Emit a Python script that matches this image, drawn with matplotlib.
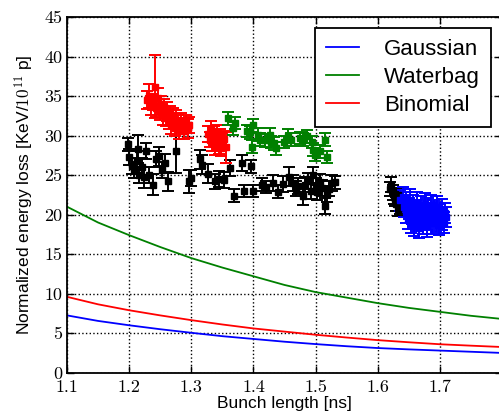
import numpy as np
import matplotlib
matplotlib.use('Agg')
import matplotlib.pyplot as plt
from matplotlib.ticker import FuncFormatter

plt.rcParams['font.family'] = ['Liberation Sans', 'DejaVu Sans']
plt.rcParams['mathtext.fontset'] = 'cm'

# theory curves
curve_x = [1.10, 1.15, 1.20, 1.25, 1.30, 1.35, 1.40, 1.45, 1.50, 1.55, 1.60, 1.65, 1.70, 1.75, 1.80]
gauss_y = [7.25, 6.55, 6.0, 5.5, 5.05, 4.62, 4.27, 3.92, 3.62, 3.35, 3.12, 2.95, 2.8, 2.65, 2.5]
water_y = [21.0, 19.0, 17.4, 15.9, 14.5, 13.3, 12.2, 11.1, 10.2, 9.5, 8.8, 8.2, 7.7, 7.2, 6.8]
binom_y = [9.6, 8.65, 7.9, 7.25, 6.65, 6.1, 5.6, 5.2, 4.8, 4.45, 4.12, 3.85, 3.6, 3.42, 3.25]

# measurements
black_x = [1.198, 1.200, 1.204, 1.208, 1.212, 1.215, 1.216, 1.220, 1.224, 1.227,
           1.232, 1.238, 1.243, 1.248, 1.253, 1.258, 1.263, 1.275, 1.296, 1.299,
           1.314, 1.317, 1.327, 1.338, 1.345, 1.352, 1.362, 1.368, 1.381, 1.385,
           1.396, 1.399, 1.413, 1.421, 1.431, 1.440, 1.447, 1.458, 1.464, 1.468,
           1.472, 1.479, 1.483, 1.488, 1.492, 1.496, 1.500, 1.503, 1.507, 1.510,
           1.515, 1.518, 1.522, 1.527, 1.532,
           1.620, 1.622, 1.625, 1.626, 1.628, 1.630, 1.632, 1.633, 1.636]
black_y = [28.9, 27.3, 26.2, 25.6, 26.8, 28.3, 25.0, 26.0, 24.7, 28.0,
           25.0, 23.8, 27.0, 27.4, 25.6, 26.5, 24.2, 28.1, 24.2, 24.6,
           27.0, 26.3, 25.2, 24.2, 24.5, 24.4, 25.9, 22.4, 26.5, 23.0,
           26.1, 23.0, 23.8, 23.5, 24.0, 22.9, 23.9, 24.8, 24.0, 23.3,
           23.6, 22.4, 23.8, 24.3, 23.0, 25.0, 23.6, 22.8, 24.1, 23.4,
           21.1, 22.6, 23.3, 24.0, 24.1,
           23.2, 23.8, 22.8, 22.2, 22.0, 21.3, 20.7, 22.5, 21.0]
black_err = [0.8, 1.0, 1.0, 1.0, 1.2, 1.8, 1.0, 1.2, 1.3, 1.0,
             1.0, 1.3, 1.0, 1.2, 1.0, 1.2, 1.2, 2.8, 1.5, 1.0,
             1.2, 1.2, 1.2, 1.0, 1.0, 1.0, 1.0, 0.8, 1.0, 0.8,
             0.8, 0.8, 0.8, 0.8, 1.0, 0.8, 1.0, 1.2, 1.0, 1.0,
             1.0, 1.2, 1.0, 1.0, 1.0, 1.0, 1.0, 1.0, 1.0, 1.0,
             1.0, 1.0, 1.0, 1.0, 0.8,
             0.9, 0.9, 0.9, 0.9, 0.9, 0.9, 0.9, 0.9, 0.9]

red_x = [1.228, 1.232, 1.235, 1.238, 1.241, 1.244, 1.246, 1.249, 1.251, 1.254,
         1.256, 1.259, 1.261, 1.264, 1.266, 1.268, 1.271, 1.273, 1.276, 1.278,
         1.281, 1.283, 1.286, 1.289, 1.291, 1.294, 1.297,
         1.327, 1.330, 1.332, 1.334, 1.336, 1.338, 1.340, 1.342, 1.344, 1.346,
         1.348, 1.350, 1.352, 1.356]
red_y = [34.5, 35.0, 33.8, 34.2, 36.2, 33.5, 34.8, 33.0, 34.0, 32.6,
         33.6, 32.2, 33.1, 31.8, 32.8, 31.4, 32.5, 31.0, 32.0, 31.6,
         30.8, 31.9, 31.2, 30.6, 31.6, 30.9, 31.3,
         30.2, 29.5, 30.8, 29.0, 30.0, 28.6, 29.6, 30.4, 28.9, 29.8,
         28.4, 29.3, 29.6, 28.5]
red_err = [1.2, 1.5, 1.2, 1.0, 4.0, 1.2, 1.2, 1.0, 1.0, 1.2,
           1.0, 1.0, 1.2, 1.0, 1.0, 1.2, 1.0, 1.0, 1.2, 1.0,
           1.2, 1.0, 1.0, 1.0, 1.0, 1.2, 1.0,
           1.0, 1.0, 1.0, 1.0, 1.2, 1.0, 1.0, 1.0, 1.2, 1.0,
           1.0, 1.0, 1.0, 2.0]

green_x = [1.359, 1.367, 1.370, 1.389, 1.394, 1.397, 1.400, 1.407, 1.410, 1.418,
           1.426, 1.428, 1.433, 1.437, 1.450, 1.456, 1.460, 1.475, 1.480, 1.486,
           1.494, 1.496, 1.499, 1.507, 1.515, 1.518]
green_y = [32.2, 30.9, 31.6, 30.6, 30.4, 28.6, 31.3, 30.1, 29.5, 29.4,
           30.1, 29.2, 29.0, 28.4, 29.2, 30.0, 29.5, 29.7, 29.5, 29.9,
           29.2, 28.2, 27.6, 28.0, 29.5, 27.3]
green_err = [0.8] * len(green_x)

blue_x = [1.636, 1.640, 1.642, 1.645, 1.646, 1.648, 1.650, 1.652, 1.653, 1.655,
          1.657, 1.658, 1.660, 1.662, 1.663, 1.665, 1.666, 1.668, 1.670, 1.671,
          1.673, 1.675, 1.676, 1.678, 1.679, 1.681, 1.683, 1.684, 1.686, 1.688,
          1.689, 1.691, 1.693, 1.694, 1.696, 1.698, 1.699, 1.701, 1.703, 1.704,
          1.706, 1.708, 1.710]
blue_y = [21.8, 22.2, 21.0, 20.3, 21.6, 19.5, 20.8, 21.9, 19.0, 20.1,
          21.2, 18.6, 19.7, 20.6, 21.5, 19.2, 18.3, 20.2, 21.0, 19.6,
          18.8, 20.5, 21.4, 19.9, 18.5, 20.8, 19.3, 20.1, 21.2, 18.9,
          19.8, 20.6, 19.1, 20.3, 21.0, 19.6, 18.7, 20.0, 19.4, 20.7,
          19.0, 20.2, 19.7]
blue_err = [1.3] * len(blue_x)

fig = plt.figure(figsize=(4.99, 4.18), dpi=100)
ax = fig.add_axes([67 / 499, 45.3 / 418, 435 / 499, 355.7 / 418])

ax.plot(curve_x, gauss_y, color='#0000ff', lw=1.3, label='Gaussian')
ax.plot(curve_x, water_y, color='#008000', lw=1.3, label='Waterbag')
ax.plot(curve_x, binom_y, color='#ff0000', lw=1.3, label='Binomial')

eb = dict(fmt='s', ms=4.2, capsize=4, elinewidth=1.4, capthick=1.4)
ax.errorbar(black_x, black_y, yerr=black_err, color='black', **eb)
ax.errorbar(red_x, red_y, yerr=red_err, color='#ff0000', **eb)
ax.errorbar(green_x, green_y, yerr=green_err, color='#008000', **eb)
ax.errorbar(blue_x, blue_y, yerr=blue_err, color='#0000ff', **eb)

ax.set_xlim(1.1, 1.8)
ax.set_ylim(0, 45)
ax.set_xticks([1.1, 1.2, 1.3, 1.4, 1.5, 1.6, 1.7])
ax.set_yticks(range(0, 46, 5))
ax.xaxis.set_major_formatter(FuncFormatter(lambda v, p: '%.1f' % v))
ax.yaxis.set_major_formatter(FuncFormatter(lambda v, p: '%d' % v))
ax.tick_params(direction='in', length=5, width=1, labelsize=13, top=True, right=True,
               labelfontfamily=['cmr10', 'Liberation Serif', 'DejaVu Serif'])
ax.tick_params(axis='x', pad=5)
ax.grid(True, color='black', linestyle=':', linewidth=1)
for s in ax.spines.values():
    s.set_linewidth(1.3)

ax.set_xlabel('Bunch length [ns]', fontsize=12.5, labelpad=1)
ax.set_ylabel('Normalized energy loss [KeV/$10^{11}$ p]', fontsize=12.5, labelpad=6)

leg = ax.legend(loc='upper right', fontsize=16, fancybox=False, framealpha=1,
                edgecolor='black', handlelength=1.5, handletextpad=1.1,
                labelspacing=0.3, borderaxespad=0.5, borderpad=0.5)
leg.get_frame().set_linewidth(1.3)

fig.savefig('out.png', dpi=100)
